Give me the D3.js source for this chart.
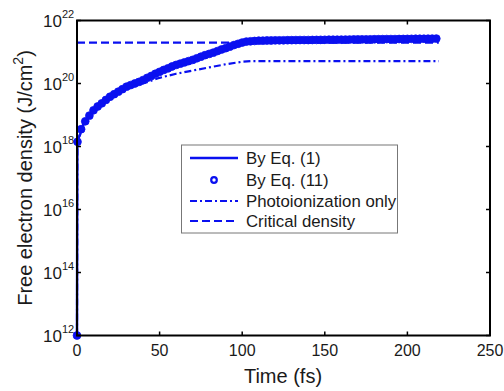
<!DOCTYPE html>
<html><head><meta charset="utf-8">
<script src="https://cdn.jsdelivr.net/npm/d3@7"></script>
<style>body{margin:0;background:#fff}svg{display:block}text{font-family:Arial,"Liberation Sans",sans-serif}</style>
</head><body>
<svg id="c" width="504" height="391"></svg>
<script>
// Data (density given as log10 exponent)
const eq1Time = [0, 0.2, 1.8, 3.9, 9.9, 20, 30, 40, 50, 60, 70, 80, 90, 99, 105, 110, 120, 140, 160, 180, 200, 219];
const eq1Log  = [12, 18.2, 18.37, 18.71, 19.16, 19.58, 19.9, 20.11, 20.37, 20.59, 20.75, 20.94, 21.12, 21.3, 21.34, 21.36, 21.37, 21.38, 21.39, 21.4, 21.41, 21.42];
const eq11Time = [0, 0.3, 2.5, 5, 7.5, 10, 12.5, 15, 17.5, 20, 22.5, 25, 27.5, 30, 32.5, 35, 37.5, 40, 42.5, 45, 47.5, 50, 52.5, 55, 57.5, 60, 62.5, 65, 67.5, 70, 72.5, 75, 77.5, 80, 82.5, 85, 87.5, 90, 92.5, 95, 97.5, 100, 102.5, 105, 107.5, 110, 112.5, 115, 117.5, 120, 122.5, 125, 127.5, 130, 132.5, 135, 137.5, 140, 142.5, 145, 147.5, 150, 152.5, 155, 157.5, 160, 162.5, 165, 167.5, 170, 172.5, 175, 177.5, 180, 182.5, 185, 187.5, 190, 192.5, 195, 197.5, 200, 202.5, 205, 207.5, 210, 212.5, 215, 217.5];
const eq11Log = [12, 18.15, 18.55, 18.8, 18.98, 19.15, 19.27, 19.37, 19.48, 19.58, 19.66, 19.74, 19.82, 19.9, 19.95, 20.0, 20.05, 20.11, 20.18, 20.24, 20.31, 20.37, 20.43, 20.48, 20.54, 20.59, 20.63, 20.67, 20.71, 20.75, 20.8, 20.85, 20.9, 20.94, 20.98, 21.03, 21.08, 21.12, 21.17, 21.22, 21.26, 21.3, 21.33, 21.34, 21.35, 21.36, 21.36, 21.365, 21.365, 21.37, 21.37, 21.372, 21.374, 21.376, 21.378, 21.38, 21.38, 21.38, 21.382, 21.384, 21.386, 21.388, 21.39, 21.39, 21.39, 21.392, 21.394, 21.396, 21.398, 21.4, 21.4, 21.4, 21.402, 21.404, 21.406, 21.408, 21.41, 21.41, 21.41, 21.412, 21.414, 21.416, 21.418, 21.42, 21.42, 21.42, 21.422, 21.424, 21.426];
const photoTime = [0, 0.2, 1.8, 3.9, 9.9, 20, 30, 40, 50, 60, 70, 80, 90, 100, 105, 219];
const photoLog  = [12, 18.2, 18.37, 18.71, 19.16, 19.58, 19.88, 20.0, 20.18, 20.31, 20.41, 20.51, 20.61, 20.69, 20.71, 20.71];
const criticalLog = 21.3;
const criticalRange = [0, 219];
const xTicks = [0, 50, 100, 150, 200, 250];
const yTickExp = [12, 14, 16, 18, 20, 22];
const legendLabels = ["By Eq. (1)", "By Eq. (11)", "Photoionization only", "Critical density"];

const svg = d3.select("#c");
const L = 77, R = 490, T = 20.5, B = 335.5;
const x = d3.scaleLinear().domain([0, 250]).range([L, R]);
const y = d3.scaleLog().domain([1e12, 1e22]).range([B, T]);
const blue = "#0a10f0";
const ink = "#1a1a1a";

const line = d3.line().x(d => x(d[0])).y(d => y(Math.pow(10, d[1])));
const zip = (a, b) => a.map((v, i) => [v, b[i]]);

// series
svg.append("path").attr("d", line(zip(criticalRange, criticalRange.map(() => criticalLog))))
  .attr("fill", "none").attr("stroke", blue).attr("stroke-width", 2.2).attr("stroke-dasharray", "8,4");
svg.append("path").attr("d", line(zip(photoTime, photoLog)))
  .attr("fill", "none").attr("stroke", blue).attr("stroke-width", 2.2).attr("stroke-dasharray", "7,3,2,3");
svg.append("path").attr("d", line(zip(eq1Time, eq1Log)))
  .attr("fill", "none").attr("stroke", blue).attr("stroke-width", 2.5);
svg.append("g").selectAll("circle").data(zip(eq11Time, eq11Log)).join("circle")
  .attr("cx", d => x(d[0])).attr("cy", d => y(Math.pow(10, d[1]))).attr("r", 3.9)
  .attr("fill", blue).attr("stroke", blue).attr("stroke-width", 0.8);

// frame
svg.append("rect").attr("x", L).attr("y", T).attr("width", R - L).attr("height", B - T)
  .attr("fill", "none").attr("stroke", "#000").attr("stroke-width", 2);

// x ticks
const xa = svg.append("g");
xTicks.forEach(t => {
  xa.append("line").attr("x1", x(t)).attr("x2", x(t)).attr("y1", B).attr("y2", B - 4).attr("stroke", "#000").attr("stroke-width", 1.5);
  xa.append("line").attr("x1", x(t)).attr("x2", x(t)).attr("y1", T).attr("y2", T + 4).attr("stroke", "#000").attr("stroke-width", 1.5);
  xa.append("text").attr("x", x(t)).attr("y", 356).attr("text-anchor", "middle").attr("font-size", 16).attr("fill", ink).text(t);
});
// y ticks
const ya = svg.append("g");
yTickExp.forEach(e => {
  const yy = y(Math.pow(10, e));
  ya.append("line").attr("x1", L).attr("x2", L + 4).attr("y1", yy).attr("y2", yy).attr("stroke", "#000").attr("stroke-width", 1.5);
  ya.append("line").attr("x1", R).attr("x2", R - 4).attr("y1", yy).attr("y2", yy).attr("stroke", "#000").attr("stroke-width", 1.5);
  ya.append("text").attr("x", 62).attr("y", yy + 6.5).attr("text-anchor", "end").attr("font-size", 17).attr("fill", ink).text("10");
  ya.append("text").attr("x", 62).attr("y", yy - 2.5).attr("font-size", 11).attr("fill", ink).text(e);
});

// axis labels
svg.append("text").attr("x", 283).attr("y", 383).attr("text-anchor", "middle").attr("font-size", 20).attr("fill", ink).text("Time (fs)");
const yl = svg.append("text").attr("transform", "translate(32,178) rotate(-90)").attr("text-anchor", "middle").attr("font-size", 20).attr("fill", ink);
yl.append("tspan").text("Free electron density (J/cm");
yl.append("tspan").attr("font-size", 14).attr("dy", -9).text("2");
yl.append("tspan").attr("dy", 9).text(")");

// legend
const lg = svg.append("g");
lg.append("rect").attr("x", 181.5).attr("y", 145).attr("width", 216).attr("height", 88).attr("fill", "#fff").attr("stroke", "#777").attr("stroke-width", 1);
const ly = [158, 180, 201, 221];
const styles = [{dash: null, line: true}, {dot: true}, {dash: "7,3,2,3", line: true}, {dash: "8,4", line: true}];
legendLabels.forEach((lab, i) => {
  const s = styles[i];
  if (s.line) lg.append("line").attr("x1", 190).attr("x2", 238).attr("y1", ly[i]).attr("y2", ly[i])
      .attr("stroke", blue).attr("stroke-width", i === 0 ? 2.5 : 2.2).attr("stroke-dasharray", s.dash);
  if (s.dot) lg.append("circle").attr("cx", 214).attr("cy", ly[i]).attr("r", 2.8).attr("fill", "none").attr("stroke", blue).attr("stroke-width", 2.2);
  lg.append("text").attr("x", 246).attr("y", ly[i] + 6).attr("font-size", 16.8).attr("fill", ink).text(lab);
});
</script>
</body></html>
